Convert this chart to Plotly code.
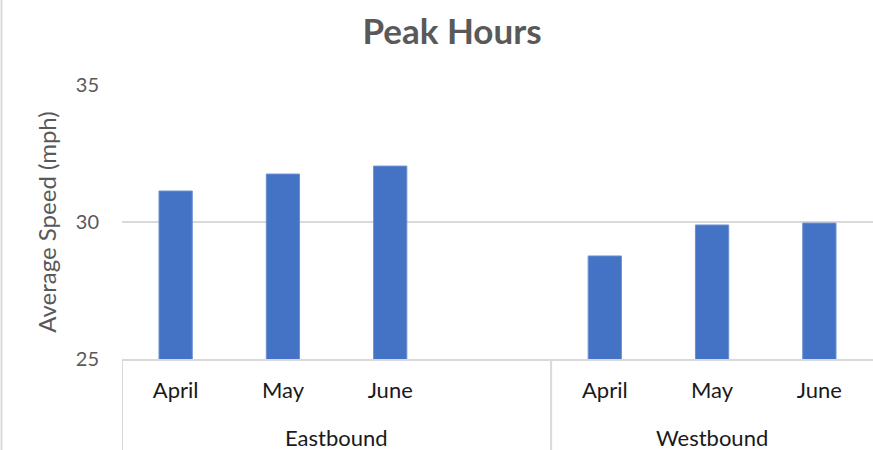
import plotly.graph_objects as go

groups = ["Eastbound", "Eastbound", "Eastbound", "Eastbound", "Westbound", "Westbound", "Westbound"]
months = ["April", "May", "June", "", "April", "May", "June"]
speeds = [31.13, 31.75, 32.04, None, 28.76, 29.89, 29.96]
y_ticks = [25, 30, 35]

FONT = "Lato"
GRAY = "#595959"
GRID = "#D9D9D9"

W, H = 873, 450
mL, mT, mB, mR = 122, 85, 450 - 359, 0
plot_h = H - mT - mB

xs = list(range(len(months)))

fig = go.Figure(
    go.Bar(
        x=xs,
        y=speeds,
        marker=dict(color="#4472C4", line=dict(color="#6A8FD3", width=1)),
    )
)

fig.update_layout(
    width=W,
    height=H,
    margin=dict(l=mL, r=mR, t=mT, b=mB),
    paper_bgcolor="white",
    plot_bgcolor="white",
    bargap=0.69,
    showlegend=False,
    title=dict(
        text="<b>Peak Hours</b>",
        font=dict(family=FONT, size=35, color=GRAY),
        x=452 / W,
        xanchor="center",
        xref="container",
        y=1 - 32 / H,
        yanchor="middle",
        yref="container",
    ),
    font=dict(family=FONT),
)

fig.update_yaxes(
    range=[25, 35],
    tickvals=y_ticks,
    showgrid=True,
    gridcolor=GRID,
    gridwidth=1.5,
    zeroline=False,
    showline=False,
    tickfont=dict(family=FONT, size=20, color=GRAY),
    ticklabelstandoff=22,
    title=dict(text="Average Speed (mph)", font=dict(family=FONT, size=24, color=GRAY), standoff=12),
)

fig.update_xaxes(
    range=[-0.5, len(months) - 0.5],
    tickvals=xs,
    ticktext=months,
    showgrid=False,
    zeroline=False,
    showline=True,
    linecolor=GRID,
    linewidth=2,
    ticks="",
    ticklabelstandoff=11,
    tickfont=dict(family=FONT, size=22, color="#1a1a1a"),
)

# group labels and dividers derived from the group list
unique_groups = list(dict.fromkeys(groups))
for g in unique_groups:
    idx = [i for i, gg in enumerate(groups) if gg == g]
    fig.add_annotation(
        x=(idx[0] + idx[-1]) / 2, y=-(437 - 359) / plot_h, xref="x", yref="paper",
        text=g, showarrow=False, yanchor="middle",
        font=dict(family=FONT, size=22, color="#1a1a1a"),
    )
    fig.add_shape(
        type="line", xref="x", yref="paper",
        x0=idx[0] - 0.5, x1=idx[0] - 0.5, y0=0, y1=-mB / plot_h,
        line=dict(color=GRID, width=2),
    )

# outer chart border on the left edge
fig.add_shape(
    type="line", xref="paper", yref="paper",
    x0=(1.5 - mL) / (W - mL - mR), x1=(1.5 - mL) / (W - mL - mR),
    y0=-mB / plot_h, y1=1 + mT / plot_h,
    line=dict(color=GRID, width=2),
)

fig.write_html(
    "out.html",
    config={"displayModeBar": False},
    post_script="document.body.style.margin='0';document.body.style.overflow='hidden';",
)
